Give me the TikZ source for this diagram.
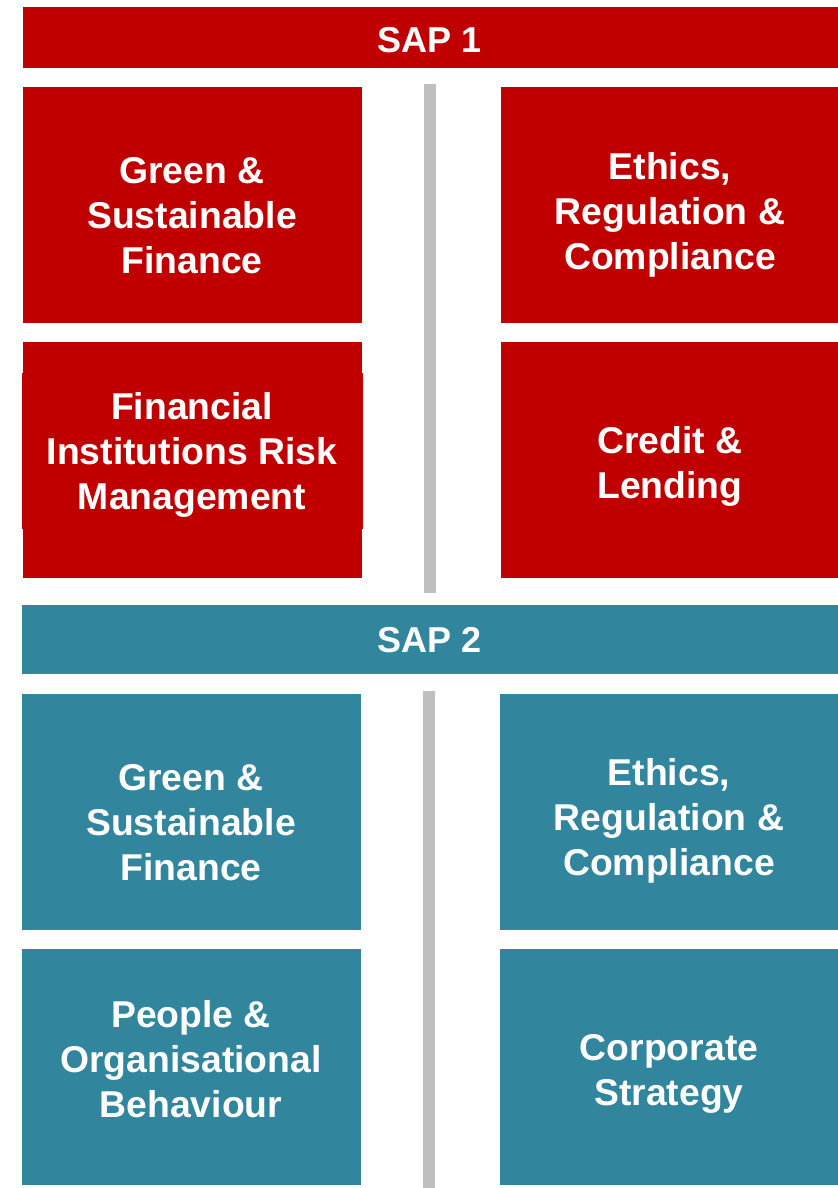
\documentclass[tikz,border=0pt]{standalone}
\usepackage{fontspec}
\setmainfont{Liberation Sans}
\definecolor{sapred}{RGB}{192,0,0}
\definecolor{sapteal}{RGB}{49,133,156}
\definecolor{sapgray}{RGB}{191,191,191}
\tikzset{every picture/.style={line width=0.75pt}}
\tikzset{boxtext/.style={anchor=center,inner sep=0.75pt,align=center,text=white,font=\fontsize{28}{33.75}\selectfont\bfseries},
  bartext/.style={boxtext,font=\fontsize{27}{33.75}\selectfont\bfseries}}

\begin{document}
\begin{tikzpicture}[x=0.75pt,y=0.75pt,yscale=-1,xscale=1]
\useasboundingbox (0,0) rectangle (838,1188);

%Shape: Rectangle [id:sap1bar] 
\fill [sapred] (23,7) -- (838,7) -- (838,68) -- (23,68) -- cycle ;
%Shape: Rectangle [id:red11] 
\fill [sapred] (23,87) -- (362,87) -- (362,323) -- (23,323) -- cycle ;
%Shape: Rectangle [id:red12] 
\fill [sapred] (501,87) -- (838,87) -- (838,323) -- (501,323) -- cycle ;
%Shape: Rectangle [id:red21] 
\fill [sapred] (23,342) -- (362,342) -- (362,578) -- (23,578) -- cycle ;
\fill [sapred] (22,373) -- (363,373) -- (363,529) -- (22,529) -- cycle ;
%Shape: Rectangle [id:red22] 
\fill [sapred] (501,342) -- (838,342) -- (838,578) -- (501,578) -- cycle ;
%Straight Lines [id:gray1] 
\fill [sapgray] (424,84) -- (436,84) -- (436,593) -- (424,593) -- cycle ;

%Shape: Rectangle [id:sap2bar] 
\fill [sapteal] (22,605) -- (838,605) -- (838,674) -- (22,674) -- cycle ;
%Shape: Rectangle [id:teal11] 
\fill [sapteal] (22,694) -- (361,694) -- (361,930) -- (22,930) -- cycle ;
%Shape: Rectangle [id:teal12] 
\fill [sapteal] (500,694) -- (838,694) -- (838,930) -- (500,930) -- cycle ;
%Shape: Rectangle [id:teal21] 
\fill [sapteal] (22,949) -- (361,949) -- (361,1185) -- (22,1185) -- cycle ;
%Shape: Rectangle [id:teal22] 
\fill [sapteal] (500,949) -- (838,949) -- (838,1185) -- (500,1185) -- cycle ;
%Straight Lines [id:gray2] 
\fill [sapgray] (423,691) -- (435,691) -- (435,1188) -- (423,1188) -- cycle ;

% Text Node
\draw (430,40) node [bartext] (sapone) {SAP 1};
% Text Node
\draw (192,216) node [boxtext] (greenone) {Green \&\\Sustainable\\Finance};
% Text Node
\draw (670,215) node [boxtext] (ethicsone) {Ethics,\\Regulation \&\\Compliance};
% Text Node
\draw (192,455) node [boxtext] (fininst) {Financial\\Institutions Risk\\Management};
% Text Node
\draw (670,466) node [boxtext] (credit) {Credit \&\\Lending};

% Text Node
\draw (430,640) node [bartext] (saptwo) {SAP 2};
% Text Node
\draw (191,823) node [boxtext] (greentwo) {Green \&\\Sustainable\\Finance};
% Text Node
\draw (669,821) node [boxtext] (ethicstwo) {Ethics,\\Regulation \&\\Compliance};
% Text Node
\draw (191,1059) node [boxtext] (people) {People \&\\Organisational\\Behaviour};
% Text Node
\draw (669,1074) node [boxtext] (corporate) {Corporate\\Strategy};

\end{tikzpicture}
\end{document}
